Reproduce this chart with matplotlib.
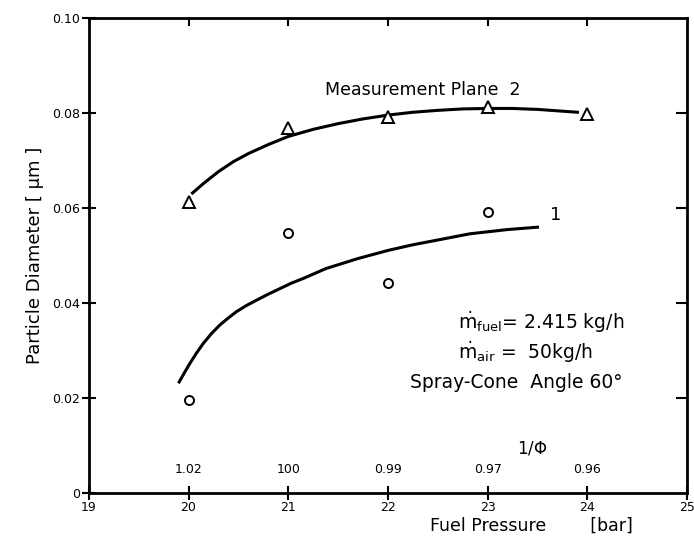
import numpy as np
import matplotlib.pyplot as plt

# measured points
pressure = [20, 21, 22, 23, 24]
plane2 = [0.0613, 0.0768, 0.0792, 0.0813, 0.0798]
pressure1 = [20, 21, 22, 23]
plane1 = [0.0196, 0.0547, 0.0442, 0.0592]

# hand-drawn fit curves
fit2_x = [20.04, 20.15, 20.3, 20.45, 20.6, 20.8, 21.0, 21.25, 21.5, 21.75, 22.0,
          22.25, 22.5, 22.75, 23.0, 23.25, 23.5, 23.7, 23.9]
fit2_y = [0.0632, 0.0652, 0.0677, 0.0698, 0.0715, 0.0734, 0.0751, 0.0766, 0.0778, 0.0788, 0.0796,
          0.0802, 0.0806, 0.0809, 0.0810, 0.0810, 0.0808, 0.0805, 0.0802]
fit1_x = [19.906, 19.96, 20.013, 20.08, 20.147, 20.23, 20.314, 20.4, 20.48, 20.58, 20.68, 20.8,
          20.92, 21.03, 21.15, 21.38, 21.7, 22.0, 22.25, 22.5, 22.82, 23.2, 23.5]
fit1_y = [0.0234, 0.0254, 0.0273, 0.0295, 0.0315, 0.0336, 0.0354, 0.0369, 0.0382, 0.0395, 0.0406, 0.0419,
          0.0431, 0.0442, 0.0452, 0.0473, 0.0494, 0.0511, 0.0523, 0.0533, 0.0546, 0.0555, 0.0560]

# 1/phi values shown above the pressure ticks
phi_pos = [20, 21, 22, 23, 24]
phi_labels = ['1.02', '100', '0.99', '0.97', '0.96']

fig = plt.figure(figsize=(6.94, 5.36), dpi=100)
ax = fig.add_axes([0.128, 0.080, 0.862, 0.886])

ax.plot(fit2_x, fit2_y, color='black', lw=2.2, zorder=2)
ax.plot(fit1_x, fit1_y, color='black', lw=2.2, zorder=2)
ax.plot(pressure, plane2, ls='none', marker='^', ms=8, mfc='white', mec='black', mew=1.4, zorder=3)
ax.plot(pressure1, plane1, ls='none', marker='o', ms=6.5, mfc='white', mec='black', mew=1.4, zorder=3)

ax.set_xlim(19, 25)
ax.set_ylim(0, 0.10)
ax.set_xticks([19, 20, 21, 22, 23, 24, 25])
ax.set_yticks([0, 0.02, 0.04, 0.06, 0.08, 0.10])
ax.set_yticklabels(['0', '0.02', '0.04', '0.06', '0.08', '0.10'])
ax.tick_params(direction='inout', length=10, width=1.5, labelsize=9, pad=1)
for s in ax.spines.values():
    s.set_linewidth(2)

top = ax.secondary_xaxis('top')
top.set_xticks([20, 21, 22, 23, 24])
top.tick_params(direction='in', length=6, width=1.5, labeltop=False)
right = ax.secondary_yaxis('right')
right.set_yticks([0.02, 0.04, 0.06, 0.08])
right.tick_params(direction='in', length=8, width=1.5, labelright=False)

for x, lab in zip(phi_pos, phi_labels):
    ax.text(x, 0.0035, lab, ha='center', va='bottom', fontsize=9)
ax.text(23.45, 0.0075, r'1/$\Phi$', ha='center', va='bottom', fontsize=12)

ax.text(22.35, 0.0848, 'Measurement Plane  2', ha='center', va='center', fontsize=12.5)
ax.text(23.63, 0.0585, '1', ha='left', va='center', fontsize=13)

ax.text(22.70, 0.0360, r'$\dot{\mathrm{m}}_{\mathrm{fuel}}$= 2.415 kg/h', ha='left', va='center', fontsize=13.5)
ax.text(22.70, 0.0297, r'$\dot{\mathrm{m}}_{\mathrm{air}}$ =  50kg/h', ha='left', va='center', fontsize=13.5)
ax.text(22.22, 0.0232, 'Spray-Cone  Angle 60°', ha='left', va='center', fontsize=13.5)

ax.set_ylabel('Particle Diameter [ μm ]', fontsize=13, labelpad=6)
ax.set_xlabel('Fuel Pressure        [bar]', fontsize=12.5, labelpad=2, x=0.74)

fig.savefig('out.png', dpi=100)
